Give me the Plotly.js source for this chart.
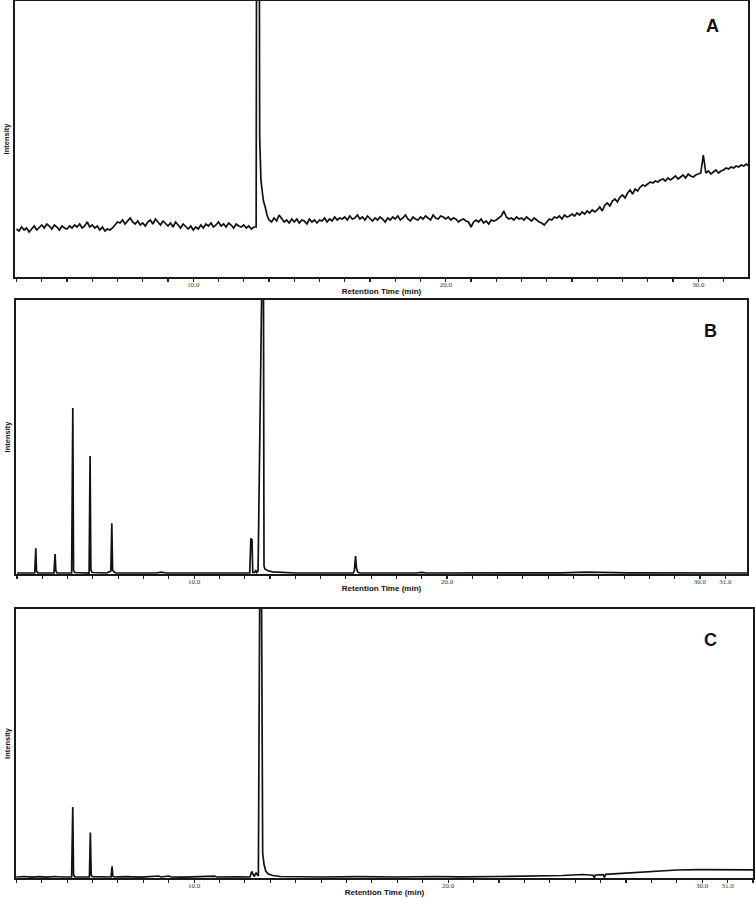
<!DOCTYPE html>
<html><head><meta charset="utf-8">
<script src="https://cdn.plot.ly/plotly-3.0.1.min.js"></script>
<style>html,body{margin:0;padding:0;background:#fff}#chart{width:755px;height:898px}</style>
</head><body><div id="chart"></div>
<script>
// ---------- Panel A (noisy blank run) ----------
const A_start1 = 3.0;          // min, first sample of segment 1
const A_step = 0.1;            // min between samples
const A_base1 = [
  48, 46, 50, 47, 49, 45, 48, 51, 47, 50,
  52, 49, 53, 51, 48, 52, 50, 47, 51, 49,
  48, 51, 49, 52, 50, 53, 49, 51, 55, 50,
  52, 49, 51, 47, 50, 46, 48, 47, 49, 52,
  55, 54, 57, 53, 56, 59, 55, 53, 56, 52,
  54, 51, 55, 57, 53, 58, 55, 52, 56, 53,
  51, 54, 50, 55, 52, 49, 53, 50, 48, 51,
  47, 50, 48, 52, 49, 53, 51, 54, 50, 52,
  55, 51, 53, 50, 54, 52, 49, 53, 51, 50,
  52, 49, 51, 48, 50
];
const A_spikeTime = [12.49, 12.56, 12.63, 12.68, 12.73, 12.78, 12.85, 12.92];
const A_spikeInt  = [50, 1200, 140, 97, 86, 76, 70, 62];
const A_start2 = 13.0;
const A_base2 = [
  57, 55, 59, 56, 62, 58, 55, 57, 54, 58,
  55, 58, 54, 57, 56, 53, 58, 55, 57, 54,
  57, 56, 59, 55, 58, 56, 60, 57, 59, 58,
  60, 57, 61, 58, 59, 62, 58, 60, 57, 61,
  58, 56, 59, 57, 60, 58, 55, 59, 57, 60,
  58, 61, 57, 59, 62, 58, 56, 60, 58, 57,
  60, 58, 61, 59, 57, 62, 59, 58, 61, 60,
  58, 60, 57, 59, 58, 55, 57, 58, 56, 55,
  50, 55, 57, 55, 58, 54, 56, 53, 57, 56,
  57, 59, 61, 66, 60, 58, 59, 57, 60, 58,
  59, 57, 60, 58, 56, 59, 57, 55, 54, 52,
  55, 58, 57, 60, 59, 61, 58, 62, 60, 61,
  63, 61, 64, 62, 65, 63, 66, 64, 67, 65,
  67, 70, 66, 72, 74, 71, 76, 78, 75, 80,
  82, 79, 84, 87, 83, 88, 86, 90, 92, 91,
  93, 95, 94, 96, 95, 97, 98, 96, 99, 97,
  99, 101, 98, 100, 102, 99, 103, 101, 100, 102,
  103, 104, 122, 104, 106, 103, 105, 107, 104, 106,
  107, 109, 108, 110, 109, 111, 110, 112, 111, 113,
  111
];

// ---------- Panel B ----------
const B_time = [3.0, 3.70, 3.743, 3.77, 3.82, 4.46, 4.506, 4.535, 4.58, 5.16, 5.206, 5.235, 5.28,
  5.85, 5.889, 5.92, 5.97, 6.55, 6.65, 6.71, 6.747, 6.78, 6.84, 6.92, 8.5, 8.7, 8.9, 10.6, 10.75, 10.9,
  12.20, 12.245, 12.27, 12.29, 12.32, 12.40, 12.44, 12.48, 12.53, 12.735, 12.765, 12.80, 12.9, 13.1,
  13.5, 14.0, 16.30, 16.34, 16.385, 16.42, 16.47, 16.55, 18.8, 19.0, 19.2, 21.1, 21.3, 21.6,
  24.5, 25.5, 26.5, 27.2, 31.9];
const B_int = [1, 1, 25.7, 3, 1.2, 1, 20, 3, 1.2, 1, 166, 4, 1.5,
  1, 118, 4, 1.5, 1, 2.3, 3, 50.7, 4, 2, 1, 1, 1.8, 1, 1, 1.6, 1,
  1, 35.7, 33, 35, 1.5, 1.5, 4, 1.5, 3, 400, 8, 5, 3.5, 2.2,
  1.5, 1, 1, 4, 18, 6, 1.8, 1, 1, 1.7, 1, 1, 1.6, 1,
  1.2, 1.8, 1.8, 1.2, 1];

// ---------- Panel C ----------
const C_time = [3.0, 3.3, 3.6, 3.9, 4.2, 4.5, 4.8, 5.18, 5.224, 5.255, 5.30, 5.6, 5.88, 5.917, 5.95, 6.0,
  6.4, 6.73, 6.772, 6.80, 6.85, 7.3, 7.9, 8.6, 8.7, 9.0, 9.1, 9.6, 10.8, 10.9, 11.7,
  12.20, 12.27, 12.36, 12.44, 12.50, 12.53, 12.62, 12.67, 12.70, 12.75, 12.82, 12.92, 13.1, 13.4,
  14.0, 15.0, 16.5, 18.0, 19.5, 20.5, 22.0, 23.5, 24.5, 25.3, 25.7, 25.75, 25.8, 26.1, 26.15, 26.2,
  27.0, 28.0, 29.0, 29.9, 31.0, 32.0];
const C_int = [1, 1.5, 0.8, 1.4, 0.9, 1.5, 1, 1, 71, 3, 1.2, 1, 1, 45.6, 3, 1.3,
  1, 1, 11.6, 2, 1, 1.3, 0.8, 2, 1, 2, 1, 0.8, 1.8, 1, 1.2,
  1, 6.6, 1.5, 5, 2, 2, 482, 60, 25, 14, 7, 4, 2.5, 1.5,
  1.2, 1, 1.3, 1, 1.5, 1.1, 1.5, 2, 2.5, 3.5, 2.8, 0.5, 3, 3.4, 0.5, 3.6,
  5, 6.6, 8, 8.3, 8.2, 8.2];

// ---------- Axis text ----------
const tickVals = [3, 4, 5, 6, 7, 8, 9, 10, 11, 12, 13, 14, 15, 16, 17, 18, 19, 20,
  21, 22, 23, 24, 25, 26, 27, 28, 29, 30, 31, 32];
const A_labelled = { 10: '10.0', 20: '20.0', 30: '30.0' };
const BC_labelled = { 10: '10.0', 20: '20.0', 30: '30.0', 31: '31.0' };
const panelLetters = ['A', 'B', 'C'];
const xTitle = 'Retention Time (min)';
const yTitle = 'Intensity';

// build panel A series from its segments
const A_time = [], A_int = [];
A_base1.forEach((v, i) => { A_time.push(+(A_start1 + i * A_step).toFixed(2)); A_int.push(v); });
A_spikeTime.forEach((t, i) => { A_time.push(t); A_int.push(A_spikeInt[i]); });
A_base2.forEach((v, i) => { A_time.push(+(A_start2 + i * A_step).toFixed(2)); A_int.push(v); });

const W = 755, H = 898;
const px = (a, b) => [a / W, b / W];
const py = (top, bottom) => [1 - bottom / H, 1 - top / H];

const lineCol = '#1a1a1a';
function xax(domain, range, labelled, anchor) {
  return {
    domain, range, anchor,
    tickmode: 'array', tickvals: tickVals, ticktext: tickVals.map(v => labelled[v] || ''),
    ticks: 'outside', ticklen: 3, tickwidth: 1.1, tickcolor: '#222',
    ticklabelstandoff: -3,
    showline: true, linecolor: lineCol, linewidth: 1.6, mirror: true,
    showgrid: false, zeroline: false, fixedrange: true,
    tickfont: { family: 'Liberation Serif', size: 7, color: '#333' },
    title: { text: '<b>' + xTitle + '</b>', font: { family: 'Liberation Sans', size: 8, color: '#111' }, standoff: 0 }
  };
}
function yax(domain, range, anchor) {
  return {
    domain, range, anchor,
    showline: true, linecolor: lineCol, linewidth: 1.6, mirror: true,
    ticks: '', showticklabels: false, showgrid: false, zeroline: false, fixedrange: true,
    title: { text: '<b>' + yTitle + '</b>', font: { family: 'Liberation Sans', size: 7.5, color: '#111' }, standoff: 3 }
  };
}

const traces = [
  { x: A_time, y: A_int, xaxis: 'x', yaxis: 'y', type: 'scatter', mode: 'lines',
    line: { color: '#111', width: 1.7 }, hoverinfo: 'skip' },
  { x: B_time, y: B_int, xaxis: 'x2', yaxis: 'y2', type: 'scatter', mode: 'lines',
    line: { color: '#111', width: 1.7 }, hoverinfo: 'skip' },
  { x: C_time, y: C_int, xaxis: 'x3', yaxis: 'y3', type: 'scatter', mode: 'lines',
    line: { color: '#111', width: 1.7 }, hoverinfo: 'skip' }
];

const layout = {
  width: W, height: H,
  margin: { l: 0, r: 0, t: 0, b: 0 },
  paper_bgcolor: '#fff', plot_bgcolor: '#fff',
  showlegend: false,
  xaxis: xax(px(15, 748), [2.94, 31.97], A_labelled, 'y'),
  yaxis: yax(py(1, 277), [0, 276], 'x'),
  xaxis2: xax(px(16, 747), [2.96, 31.86], BC_labelled, 'y2'),
  yaxis2: yax(py(300, 574), [0, 274], 'x2'),
  xaxis3: xax(px(16, 753), [2.99, 32.0], BC_labelled, 'y3'),
  yaxis3: yax(py(609, 878), [0, 269], 'x3'),
  annotations: [
    [712, 26], [710, 331], [710, 640]
  ].map((p, i) => ({
    text: '<b>' + panelLetters[i] + '</b>', xref: 'paper', yref: 'paper',
    x: p[0] / W, y: 1 - p[1] / H, xanchor: 'center', yanchor: 'middle',
    showarrow: false, font: { family: 'Liberation Sans', size: 18, color: '#111' }
  }))
};

Plotly.newPlot('chart', traces, layout, { displayModeBar: false, staticPlot: true });
</script>
</body></html>
